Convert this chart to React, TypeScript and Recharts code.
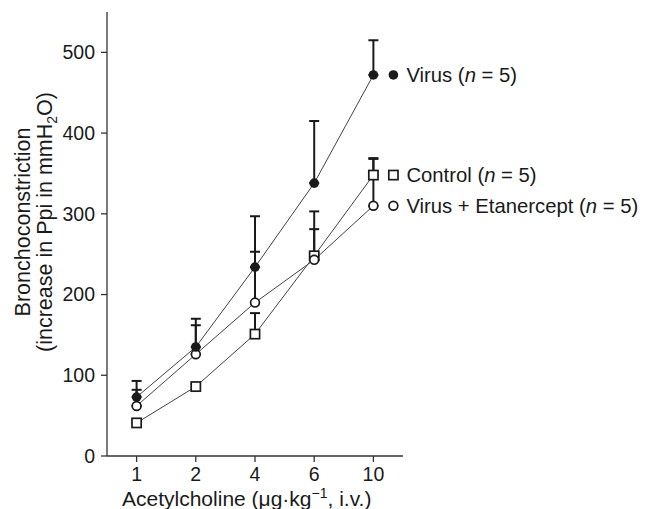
import { LineChart, Line, XAxis, YAxis, ErrorBar, Label } from "recharts"

const doses = ["1", "2", "4", "6", "10"]
const virus = [73, 135, 234, 338, 472]
const virusErr = [20, 35, 63, 77, 43]
const control = [41, 86, 151, 248, 348]
const controlErr = [3, 3, 26, 33, 20]
const etanercept = [62, 126, 190, 243, 310]
const etanerceptErr = [20, 36, 63, 60, 59]
const yTicks = [0, 100, 200, 300, 400, 500]

const data = doses.map((d, i) => ({
  dose: d,
  virus: virus[i],
  virusErr: [0, virusErr[i]],
  control: control[i],
  controlErr: [0, controlErr[i]],
  etanercept: etanercept[i],
  etanerceptErr: [0, etanerceptErr[i]],
}))

const font = "'Liberation Sans', Arial, Helvetica, sans-serif"
const ink = "#1a1a1a"

function marker(shape: string, x: number, y: number, key?: any) {
  if (shape === "filled") return <circle key={key} cx={x} cy={y} r={4.8} fill={ink} />
  if (shape === "square")
    return <rect key={key} x={x - 4.6} y={y - 4.6} width={9.2} height={9.2} fill="#fff" stroke={ink} strokeWidth={1.7} />
  return <circle key={key} cx={x} cy={y} r={4.4} fill="#fff" stroke={ink} strokeWidth={1.7} />
}

const dot = (shape: string) => (p: any) => marker(shape, p.cx, p.cy, p.index)

const legend = (name: string, shape: string) => (p: any) => {
  if (p.index !== doses.length - 1) return null
  const x = Number(p.x), y = Number(p.y)
  return (
    <g>
      {marker(shape, x + 20, y)}
      <text x={x + 33} y={y} dy="0.36em" fontSize={20.3} fontFamily={font} fill={ink}>
        {name} (<tspan fontStyle="italic">n</tspan> = 5)
      </text>
    </g>
  )
}

const YTitle = (p: any) => {
  const cy = p.viewBox.y + p.viewBox.height / 2 - 12
  return (
    <g fontFamily={font} fontSize={21.5} fill={ink} textAnchor="middle">
      <text x={22} y={cy} transform={`rotate(-90 22 ${cy})`}>Bronchoconstriction</text>
      <text x={44} y={cy} transform={`rotate(-90 44 ${cy})`}>
        (increase in Ppi in mmH<tspan dy={5} fontSize={14}>2</tspan><tspan dy={-5}>O)</tspan>
      </text>
    </g>
  )
}

const XTitle = (p: any) => (
  <text x={p.viewBox.x + 15} y={498} fontFamily={font} fontSize={21} fill={ink}>
    Acetylcholine (μg·kg<tspan dy={-8} fontSize={14}>−1</tspan><tspan dy={8}>, i.v.)</tspan>
  </text>
)

export default function App() {
  const tick = { fontSize: 19.5, fontFamily: font, fill: ink }
  return (
    <LineChart width={643} height={501} data={data} margin={{ top: 4, right: 248, bottom: 0, left: 0 }}>
      <XAxis
        dataKey="dose"
        height={53}
        padding={{ left: 29.6, right: 29.6 }}
        tick={tick}
        tickSize={6}
        tickMargin={5}
        stroke="#333"
        strokeWidth={1.3}
      >
        <Label content={XTitle} />
      </XAxis>
      <YAxis
        width={99}
        domain={[0, 550]}
        ticks={yTicks}
        tick={tick}
        tickSize={6}
        tickMargin={6}
        stroke="#333"
        strokeWidth={1.3}
        allowDataOverflow
      >
        <Label content={YTitle} />
      </YAxis>
      <Line dataKey="control" stroke="#444" strokeWidth={1} dot={dot("square")} isAnimationActive={false} label={legend("Control", "square")}>
        <ErrorBar dataKey="controlErr" direction="y" width={5} stroke={ink} strokeWidth={2} />
      </Line>
      <Line dataKey="etanercept" stroke="#444" strokeWidth={1} dot={dot("open")} isAnimationActive={false} label={legend("Virus + Etanercept", "open")}>
        <ErrorBar dataKey="etanerceptErr" direction="y" width={5} stroke={ink} strokeWidth={2} />
      </Line>
      <Line dataKey="virus" stroke="#444" strokeWidth={1} dot={dot("filled")} isAnimationActive={false} label={legend("Virus", "filled")}>
        <ErrorBar dataKey="virusErr" direction="y" width={5} stroke={ink} strokeWidth={2} />
      </Line>
    </LineChart>
  )
}
